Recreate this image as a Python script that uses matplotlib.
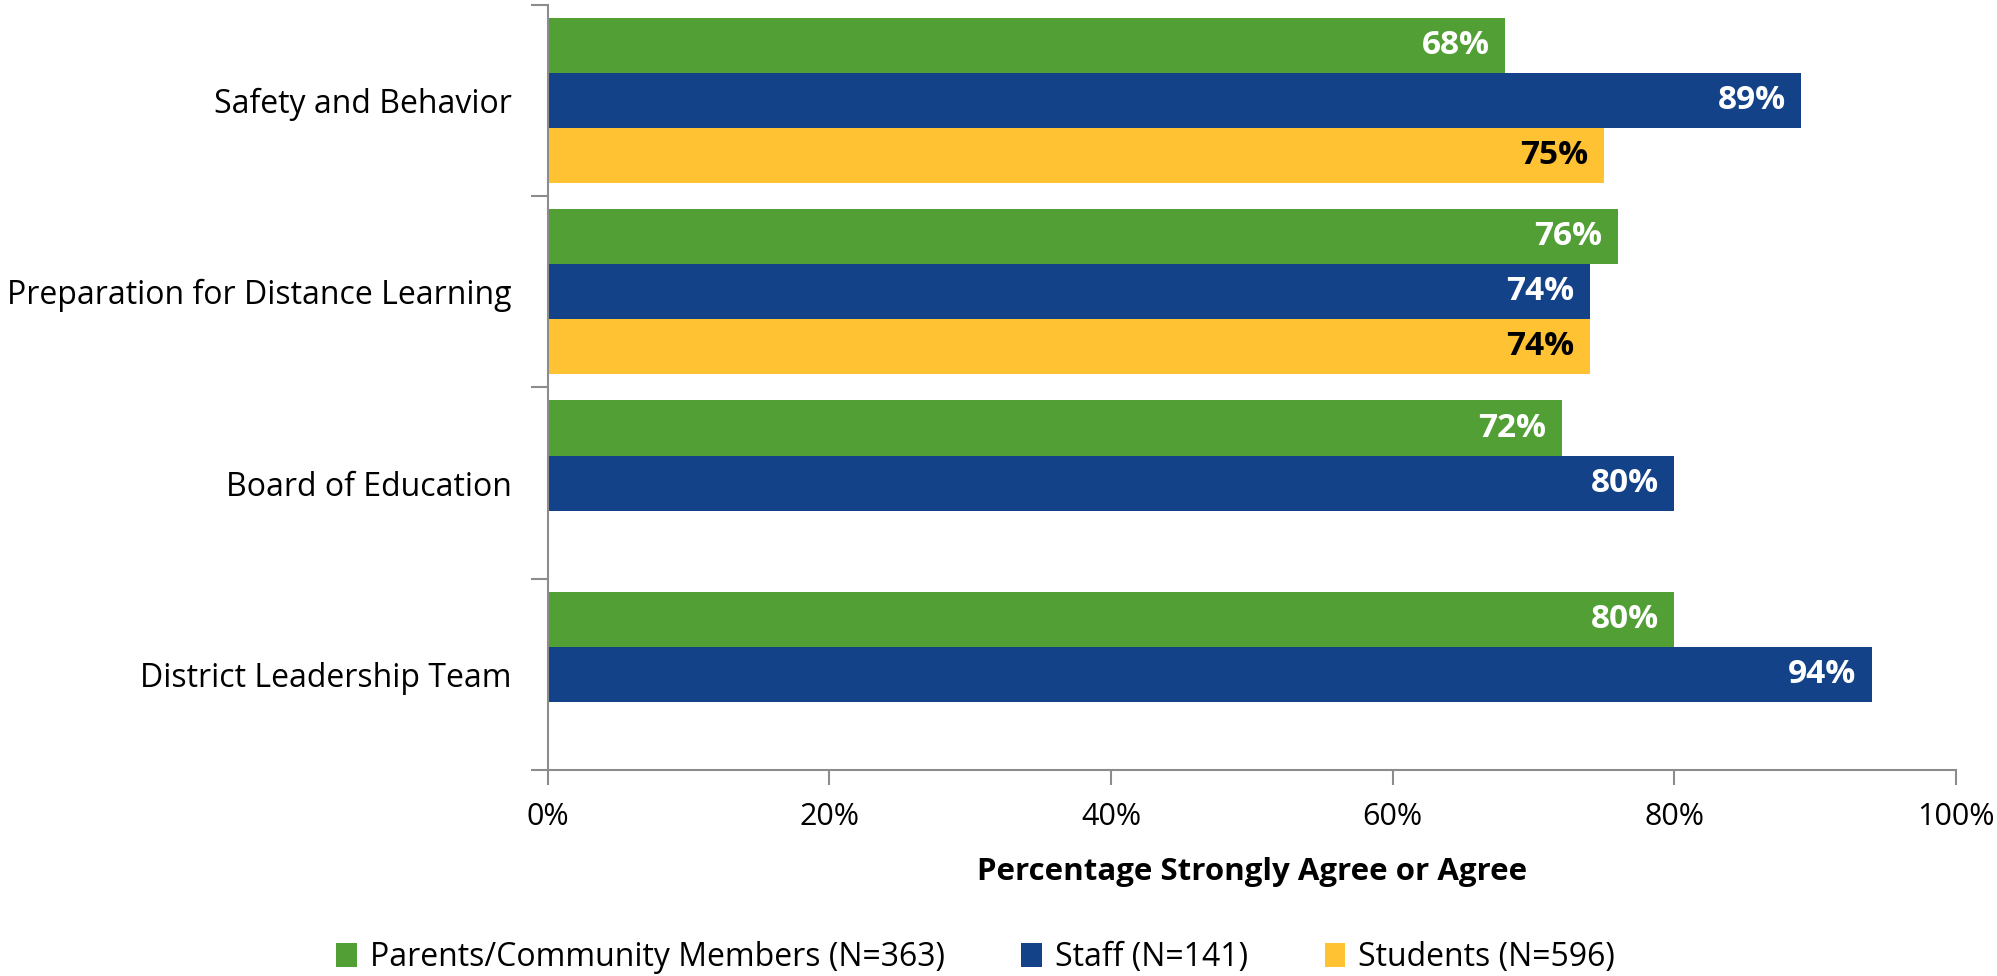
import matplotlib.pyplot as plt
import numpy as np

plt.rcParams['font.family'] = ['Open Sans', 'DejaVu Sans']

categories = ['Safety and Behavior', 'Preparation for Distance Learning',
              'Board of Education', 'District Leadership Team']
parents = [68, 76, 72, 80]
staff = [89, 74, 80, 94]
students = [75, 74, None, None]
series_names = ['Parents/Community Members (N=363)', 'Staff (N=141)', 'Students (N=596)']
colors = ['#52A035', '#134289', '#FFC232']
label_colors = ['white', 'white', 'black']

fig = plt.figure(figsize=(19.97, 9.76), dpi=100)
ax = fig.add_axes([0.2742, 0.211, 0.7053, 0.784])

n = len(categories)
pos = np.arange(n)[::-1]  # top category first
h = 0.288
offsets = [h, 0, -h]

for vals, name, c, lc, off in zip([parents, staff, students], series_names, colors, label_colors, offsets):
    ys = [p + off for p, v in zip(pos, vals) if v is not None]
    xs = [v for v in vals if v is not None]
    bars = ax.barh(ys, xs, height=h, color=c, label=name)
    for b, v in zip(bars, xs):
        ax.text(b.get_width() - 1.1, b.get_y() + b.get_height() / 2, f'{v}%',
                ha='right', va='center', color=lc, fontsize=24, fontweight='bold')

ax.set_xlim(0, 100)
ax.set_ylim(-0.5, n - 0.5)
ax.set_xticks(np.arange(0, 101, 20))
ax.set_xticklabels([f'{x}%' for x in range(0, 101, 20)], fontsize=22)
ax.set_yticks(pos)
ax.set_yticklabels(categories, fontsize=23)
ax.tick_params(axis='y', length=0, pad=26)
ax.set_yticks(np.arange(-0.5, n, 1.0), minor=True)
ax.tick_params(axis='y', which='minor', length=12, color='#8c8c8c', width=1.5)
ax.tick_params(axis='x', length=11, color='#8c8c8c', width=1.5, pad=12)

for s in ['top', 'right']:
    ax.spines[s].set_visible(False)
for s in ['left', 'bottom']:
    ax.spines[s].set_color('#8c8c8c')
    ax.spines[s].set_linewidth(1.5)

ax.set_xlabel('Percentage Strongly Agree or Agree', fontsize=22.5, fontweight='bold', labelpad=18)

handles, labels = ax.get_legend_handles_labels()
fig.legend(handles, labels, loc='center', bbox_to_anchor=(0.4885, 0.019), ncol=3, frameon=False,
           fontsize=23, handlelength=0.65, handleheight=0.8, columnspacing=2.4, handletextpad=0.4)

fig.savefig('out.png', dpi=100)
